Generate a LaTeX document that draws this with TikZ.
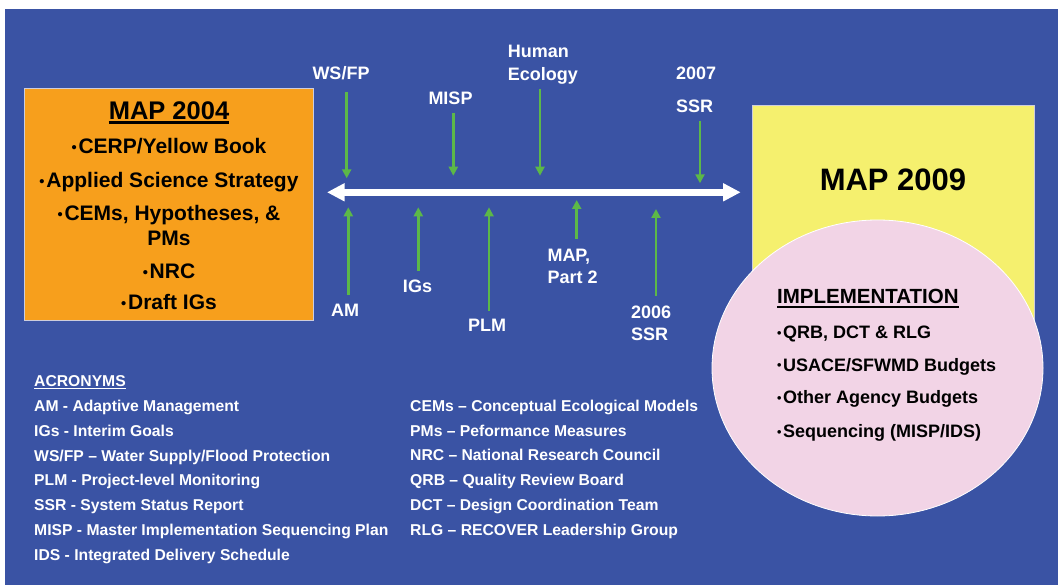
\documentclass[tikz,border=0pt]{standalone}
\usepackage{fontspec}
\setmainfont{Liberation Sans}
\usetikzlibrary{arrows.meta,shapes.geometric}
\definecolor{bgblue}{RGB}{58,83,164}
\definecolor{mapor}{RGB}{247,159,28}
\definecolor{mapyel}{RGB}{245,240,110}
\definecolor{imppink}{RGB}{242,212,230}
\definecolor{arrgreen}{RGB}{92,184,72}
\definecolor{boxedge}{RGB}{205,205,220}
\newcommand\mybul{\makebox[0.33em][l]{\raisebox{0.06em}{\scalebox{0.7}{•}}}}
\begin{document}
\begin{tikzpicture}[x=1pt,y=-1pt,
  lbl/.style={text=white,font=\fontsize{18}{20}\selectfont\bfseries,inner sep=0pt},
  acr/.style={text=white,font=\fontsize{15.7}{18}\selectfont\bfseries,inner sep=0pt,anchor=base west},
  boxtxt/.style={text=black,font=\fontsize{21}{24}\selectfont\bfseries,inner sep=0pt,anchor=base},
  imptxt/.style={text=black,font=\fontsize{18}{20}\selectfont\bfseries,inner sep=0pt,anchor=base west},
  garrow/.style={draw=arrgreen,line width=2.8pt,-{Triangle[length=9pt,width=9pt]}},
  tlarrow/.style={draw=white,line width=6.7pt,{Triangle[length=17.5pt,width=17pt]}-{Triangle[length=17.5pt,width=17pt]}},
]
\useasboundingbox (0,0) rectangle (1058,585);
\fill[white] (0,0) rectangle (1058,585);
\fill[bgblue] (5,9) rectangle (1058,585);

% boxes
\node[draw=boxedge,fill=mapor,line width=1pt,minimum width=289pt,minimum height=232.5pt,inner sep=0pt,anchor=north west] (map04) at (24,88) {};
\node[draw=boxedge,fill=mapyel,line width=1pt,minimum width=282pt,minimum height=225pt,inner sep=0pt,anchor=north west] (map09) at (752,105) {};
\node[draw=white,fill=imppink,line width=0.8pt,ellipse,minimum width=331pt,minimum height=296pt,inner sep=0pt] (impl) at (877.5,368) {};

% MAP 2004 text
\node[boxtxt,font=\fontsize{25.5}{28}\selectfont\bfseries] (t04) at (169,119.3) {MAP 2004};
\draw[line width=2.8pt] ([yshift=-3pt]t04.base west) -- ([yshift=-3pt]t04.base east);
\node[boxtxt] (b1) at (169,154) {\mybul CERP/Yellow Book};
\node[boxtxt] (b2) at (169,187.3) {\mybul Applied Science Strategy};
\node[boxtxt] (b3) at (169,220.7) {\mybul CEMs, Hypotheses, \&};
\node[boxtxt] (b4) at (169,245.7) {PMs};
\node[boxtxt] (b5) at (169,279) {\mybul NRC};
\node[boxtxt] (b6) at (169,310) {\mybul Draft IGs};

% MAP 2009 text
\node[boxtxt,font=\fontsize{31}{34}\selectfont\bfseries] (t09) at (893,190.7) {MAP 2009};

% Implementation
\node[imptxt,font=\fontsize{20.5}{23}\selectfont\bfseries] (timp) at (777,304) {IMPLEMENTATION};
\draw[line width=2pt] ([yshift=-2.8pt]timp.base west) -- ([yshift=-2.8pt]timp.base east);
\node[imptxt] (i1) at (777,338.3) {\mybul QRB, DCT \& RLG};
\node[imptxt] (i2) at (777,371) {\mybul USACE/SFWMD Budgets};
\node[imptxt] (i3) at (777,403.3) {\mybul Other Agency Budgets};
\node[imptxt] (i4) at (777,437.7) {\mybul Sequencing (MISP/IDS)};

% timeline
\coordinate (tl) at (327,192.3);
\coordinate (tr) at (740.7,192.3);
\draw[tlarrow] (tl) -- (tr);

% top labels
\node[lbl,anchor=base] (lwsfp) at (341,80) {WS/FP};
\node[lbl,anchor=base] (lmisp) at (450.5,105) {MISP};
\node[lbl,anchor=base west] (lhum) at (507.7,58) {Human};
\node[lbl,anchor=base west] (leco) at (507.7,81) {Ecology};
\node[lbl,anchor=base west] (l2007) at (676,80) {2007};
\node[lbl,anchor=base west] (lssrA) at (676,113) {SSR};
% bottom labels
\node[lbl,anchor=base] (lam) at (345,317) {AM};
\node[lbl,anchor=base] (ligs) at (417.5,293) {IGs};
\node[lbl,anchor=base] (lplm) at (487,332) {PLM};
\node[lbl,anchor=base west] (lmap) at (547.3,262) {MAP,};
\node[lbl,anchor=base west] (lpart) at (547.3,284) {Part 2};
\node[lbl,anchor=base west] (l2006) at (631,319) {2006};
\node[lbl,anchor=base west] (lssrB) at (631,341) {SSR};

% green arrows (down)
\coordinate (wsA) at (346.7,92);   \coordinate (wsB) at (346.7,178.3);
\coordinate (miA) at (453.3,112.7); \coordinate (miB) at (453.3,175.7);
\coordinate (huA) at (540,89);     \coordinate (huB) at (540,175.7);
\coordinate (s7A) at (700,120.7);  \coordinate (s7B) at (700,183.3);
\draw[garrow] (wsA) -- (wsB);
\draw[garrow] (miA) -- (miB);
\draw[garrow] (huA) -- (huB);
\draw[garrow] (s7A) -- (s7B);
% green arrows (up)
\coordinate (amA) at (348.3,295);  \coordinate (amB) at (348.3,207.3);
\coordinate (igA) at (418.3,270.7); \coordinate (igB) at (418.3,207.3);
\coordinate (plA) at (489,310.7);  \coordinate (plB) at (489,207.3);
\coordinate (mpA) at (576.7,239);  \coordinate (mpB) at (576.7,200);
\coordinate (s6A) at (656,295.7);  \coordinate (s6B) at (656,209);
\draw[garrow] (amA) -- (amB);
\draw[garrow] (igA) -- (igB);
\draw[garrow] (plA) -- (plB);
\draw[garrow] (mpA) -- (mpB);
\draw[garrow] (s6A) -- (s6B);

% acronyms
\node[acr] (ahead) at (34,386.7) {ACRONYMS};
\draw[white,line width=1.3pt] ([yshift=-2pt]ahead.base west) -- ([yshift=-2pt]ahead.base east);
\node[acr] (a1) at (34,411.7) {AM - Adaptive Management};
\node[acr] (a2) at (34,436) {IGs - Interim Goals};
\node[acr] (a3) at (34,461) {WS/FP – Water Supply/Flood Protection};
\node[acr] (a4) at (34,485.7) {PLM - Project-level Monitoring};
\node[acr] (a5) at (34,510) {SSR - System Status Report};
\node[acr] (a6) at (34,535.7) {MISP - Master Implementation Sequencing Plan};
\node[acr] (a7) at (34,560) {IDS - Integrated Delivery Schedule};
\node[acr] (c1) at (410,411.7) {CEMs – Conceptual Ecological Models};
\node[acr] (c2) at (410,436) {PMs – Peformance Measures};
\node[acr] (c3) at (410,460.7) {NRC – National Research Council};
\node[acr] (c4) at (410,485) {QRB – Quality Review Board};
\node[acr] (c5) at (410,510) {DCT – Design Coordination Team};
\node[acr] (c6) at (410,535.7) {RLG – RECOVER Leadership Group};
\end{tikzpicture}
\end{document}
